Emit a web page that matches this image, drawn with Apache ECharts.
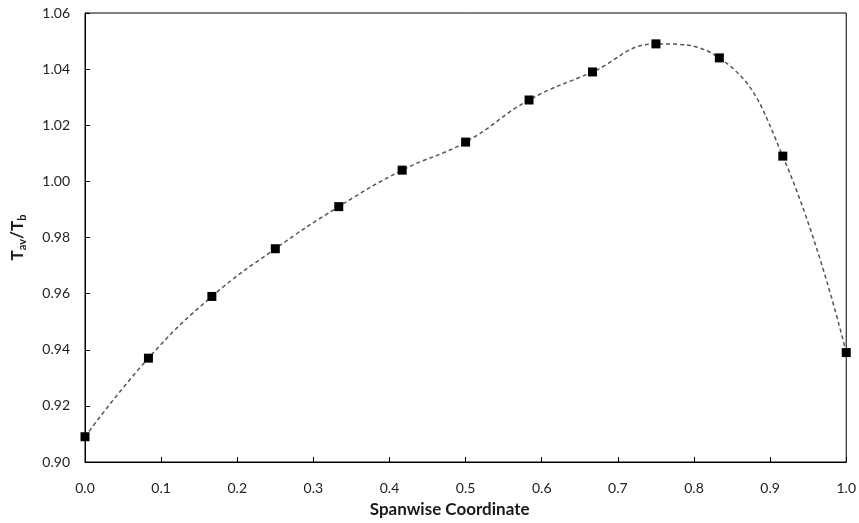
<!DOCTYPE html>
<html>
<head>
<meta charset="utf-8">
<script src="https://cdn.jsdelivr.net/npm/echarts@6/dist/echarts.min.js"></script>
<style>
  html, body { margin: 0; padding: 0; background: #fff; }
  #chart { width: 859px; height: 523px; }
</style>
</head>
<body>
<div id="chart"></div>
<script>
// Spanwise positions (twelfths of the span) and averaged temperature ratio
const spanwise = [0, 1/12, 2/12, 3/12, 4/12, 5/12, 6/12, 7/12, 8/12, 9/12, 10/12, 11/12, 1];
const tempRatio = [0.909, 0.937, 0.959, 0.976, 0.991, 1.004, 1.014, 1.029, 1.039, 1.049, 1.044, 1.009, 0.939];

const xTicks = { min: 0, max: 1, step: 0.1 };
const yTicks = { min: 0.90, max: 1.06, step: 0.02 };

const points = spanwise.map((x, i) => [x, tempRatio[i]]);
const font = 'Lato, "Open Sans", sans-serif';

const chart = echarts.init(document.getElementById('chart'));
chart.setOption({
  animation: false,
  backgroundColor: '#fff',
  grid: {
    left: 85, right: 11, top: 13, bottom: 61,
    show: true, borderColor: '#000', borderWidth: 1, backgroundColor: 'transparent'
  },
  xAxis: {
    type: 'value',
    min: xTicks.min, max: xTicks.max, interval: xTicks.step,
    name: 'Spanwise Coordinate',
    nameLocation: 'middle',
    nameGap: 39,
    nameTextStyle: {
      fontFamily: font, fontSize: 17, fontWeight: 'bold', color: '#1a1a1a',
      padding: [0, 32, 0, 0]
    },
    axisLine: { show: true, lineStyle: { color: '#000', width: 1 } },
    axisTick: { show: true, inside: true, length: 5, lineStyle: { color: '#000' } },
    axisLabel: {
      margin: 19, fontFamily: font, fontSize: 14, color: '#222',
      formatter: v => v.toFixed(1)
    },
    splitLine: { show: false }
  },
  yAxis: {
    type: 'value',
    min: yTicks.min, max: yTicks.max, interval: yTicks.step,
    name: '{m|T}{s|av}{m|/T}{s|b}',
    nameLocation: 'middle',
    nameRotate: 90,
    nameGap: 57,
    nameTextStyle: {
      rich: {
        m: { fontFamily: font, fontSize: 17, fontWeight: 'bold', color: '#1a1a1a' },
        s: { fontFamily: font, fontSize: 11, fontWeight: 'bold', color: '#1a1a1a', padding: [9, 0, 0, 0] }
      }
    },
    axisLine: { show: true, lineStyle: { color: '#000', width: 1 } },
    axisTick: { show: true, inside: true, length: 5, lineStyle: { color: '#000' } },
    axisLabel: {
      margin: 15, fontFamily: font, fontSize: 14, color: '#222',
      formatter: v => v.toFixed(2)
    },
    splitLine: { show: false }
  },
  series: [{
    type: 'line',
    data: points,
    smooth: 0.45,
    symbol: 'rect',
    symbolSize: 9,
    itemStyle: { color: '#000' },
    lineStyle: { color: '#555', width: 1.5, type: [4, 3] },
    clip: false
  }]
});
</script>
</body>
</html>
